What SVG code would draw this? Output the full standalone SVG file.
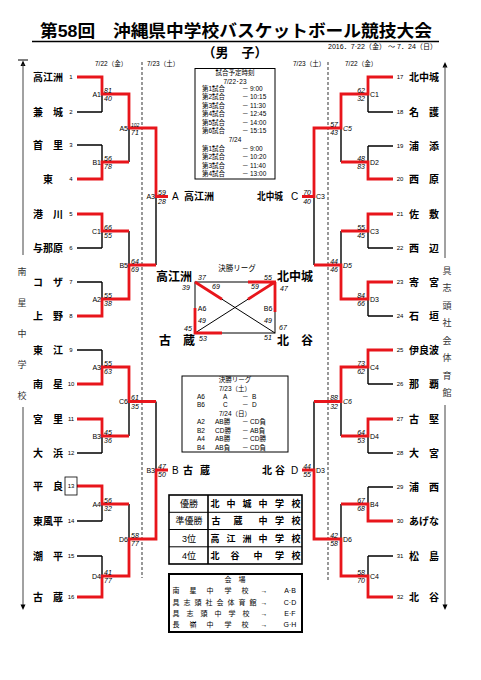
<svg xmlns="http://www.w3.org/2000/svg" width="481" height="680" viewBox="0 0 481 680" font-family="'Liberation Sans','Noto Sans CJK JP',sans-serif">
<style>
.bk{stroke:#000;stroke-width:1.4;fill:none}
.rd{stroke:#e8151b;stroke-width:2.8;fill:none}
.thin{stroke:#000;stroke-width:1;fill:none}
.dash{stroke:#555;stroke-width:1.2;stroke-dasharray:3 2;fill:none}
.side{stroke:#444;stroke-width:1;fill:none}
.nm{font-size:10px;font-weight:bold}
.no{font-size:6px;text-anchor:middle}
.sc{font-size:7px;font-style:italic}
.lb{font-size:7px}
.hd{font-size:6.5px}
.sm{font-size:6.5px}
.vt{font-size:9px;fill:#333;text-anchor:middle}
.cn{font-size:10px;font-weight:bold}
.fl{font-size:12px;font-weight:bold}
.rt{font-size:9px;font-weight:bold;text-anchor:middle}
.rl{font-size:9px;text-anchor:middle}
.vn{font-size:7px;text-anchor:middle}
</style>
<g id="title">
<text x="40" y="37" font-size="17" font-weight="bold" textLength="392" lengthAdjust="spacingAndGlyphs">第58回　沖縄県中学校バスケットボール競技大会</text>
<line x1="32" y1="41.5" x2="439" y2="41.5" stroke="#000" stroke-width="1.5"/>
<text x="235" y="57" font-size="13" font-weight="bold" text-anchor="middle">（男　子）</text>
<text x="328" y="49" font-size="7" textLength="109" lengthAdjust="spacingAndGlyphs">2016．7·22（金） ～ 7．24（日）</text>
<text x="95" y="66" class="hd">7/22（金）</text>
<text x="147" y="66" class="hd">7/23（土）</text>
<text x="293" y="66" class="hd">7/23（土）</text>
<text x="345" y="66" class="hd">7/22（金）</text>
</g>
<g id="venue-sides">
<line x1="18" y1="60" x2="28" y2="60" stroke="#000" stroke-width="1"/>
<polygon points="23,60.5 20.5,66 25.5,66" fill="#000"/>
<line class="side" x1="23" y1="64" x2="23" y2="255"/>
<line class="side" x1="23" y1="407" x2="23" y2="606"/>
<polygon points="23,610 20.5,604.5 25.5,604.5" fill="#000"/>
<text class="vt" x="22" y="274.5">南</text>
<text class="vt" x="22" y="305.5">星</text>
<text class="vt" x="22" y="336.5">中</text>
<text class="vt" x="22" y="367.5">学</text>
<text class="vt" x="22" y="398.5">校</text>
<polygon points="445,62 442.5,67.5 447.5,67.5" fill="#000"/>
<line class="side" x1="445" y1="66" x2="445" y2="258"/>
<line class="side" x1="445" y1="405" x2="445" y2="606"/>
<polygon points="445,610 442.5,604.5 447.5,604.5" fill="#000"/>
<text class="vt" x="447" y="273.5">具</text>
<text class="vt" x="447" y="291">志</text>
<text class="vt" x="447" y="308.5">頭</text>
<text class="vt" x="447" y="326">社</text>
<text class="vt" x="447" y="343.5">会</text>
<text class="vt" x="447" y="361">体</text>
<text class="vt" x="447" y="378.5">育</text>
<text class="vt" x="447" y="396">館</text>
</g>
<g id="connectors">
<line class="dash" x1="142" y1="62" x2="142" y2="578"/>
<line class="dash" x1="328" y1="62" x2="328" y2="582"/>
<path class="bk" d="M77,77H102M77,112H102M77,145H102M77,179H102M77,214H102M77,248H102M77,282H102M77,316H102M77,350H102M77,384H102M77,419H102M77,453H102M77,486H102M77,521H102M77,556H102M77,597H102
M102,77V112M102,145V179M102,214V248M102,282V316M102,350V384M102,419V453M102,486V521M102,556V597
M102,94H129M102,162H129M102,231H129M102,299H129M102,367H129M102,436H129M102,504H129M102,576H129
M129,94V162M129,231V299M129,367V436M129,504V576
M129,128H156M129,265H156M129,401.5H156M129,539H156
M156,128V265M156,401.5V539M156,196.5H168M156,470H168"/>
<path class="bk" d="M393,77H368M393,112H368M393,146H368M393,179H368M393,214H368M393,248H368M393,282H368M393,316H368M393,350H368M393,384H368M393,419H368M393,453H368M393,487H368M393,521H368M393,556H368M393,597H368
M368,77V112M368,146V179M368,214V248M368,282V316M368,350V384M368,419V453M368,487V521M368,556V597
M368,94H341M368,162H341M368,231H341M368,299H341M368,367H341M368,436H341M368,504H341M368,576H341
M341,94V162M341,231V299M341,367V436M341,504V576
M341,128H314M341,265H314M341,401.5H314M341,539H314
M314,128V265M314,401.5V539M314,196.5H302M314,470H302"/>
<path class="rd" d="M77,77H102V94H129V128H156V196.5H168
M77,179H102V162H129
M77,214H102V231H129
M77,316H102V299H129V265H156
M77,384H102V367H129V401.5H156
M77,419H102V436H129
M77,486H102V504H129
M77,597H102V576H129V539H156V470H168"/>
<path class="rd" d="M393,77H368V94H341V128H314V196.5H302
M393,179H368V162H341
M393,214H368V231H341
M393,282H368V299H341V265H314
M393,350H368V367H341V401.5H314
M393,419H368V436H341
M393,521H368V504H341
M393,597H368V576H341V539H314V470H302"/>
</g>
<g id="left-teams">
<g id="team-1"><text class="nm" x="33" y="80.8">高江洲</text><text class="no" x="71" y="79.2">1</text></g>
<g id="team-2"><text class="nm" x="33" y="115.8">兼　城</text><text class="no" x="71" y="114.2">2</text></g>
<g id="team-3"><text class="nm" x="33" y="148.8">首　里</text><text class="no" x="71" y="147.2">3</text></g>
<g id="team-4"><text class="nm" x="48" y="182.8" text-anchor="middle">東</text><text class="no" x="71" y="181.2">4</text></g>
<g id="team-5"><text class="nm" x="33" y="217.8">港　川</text><text class="no" x="71" y="216.2">5</text></g>
<g id="team-6"><text class="nm" x="33" y="251.8">与那原</text><text class="no" x="71" y="250.2">6</text></g>
<g id="team-7"><text class="nm" x="33" y="285.8">コ　ザ</text><text class="no" x="71" y="284.2">7</text></g>
<g id="team-8"><text class="nm" x="33" y="319.8">上　野</text><text class="no" x="71" y="318.2">8</text></g>
<g id="team-9"><text class="nm" x="33" y="353.8">東　江</text><text class="no" x="71" y="352.2">9</text></g>
<g id="team-10"><text class="nm" x="33" y="387.8">南　星</text><text class="no" x="71" y="386.2">10</text></g>
<g id="team-11"><text class="nm" x="33" y="422.8">宮　里</text><text class="no" x="71" y="421.2">11</text></g>
<g id="team-12"><text class="nm" x="33" y="456.8">大　浜</text><text class="no" x="71" y="455.2">12</text></g>
<g id="team-13"><text class="nm" x="33" y="489.8">平　良</text><rect x="65" y="477" width="12" height="18" fill="none" stroke="#000" stroke-width="0.8"/><text class="no" x="71" y="488.2">13</text></g>
<g id="team-14"><text class="nm" x="33" y="524.8">東風平</text><text class="no" x="71" y="523.2">14</text></g>
<g id="team-15"><text class="nm" x="33" y="559.8">潮　平</text><text class="no" x="71" y="558.2">15</text></g>
<g id="team-16"><text class="nm" x="33" y="600.8">古　蔵</text><text class="no" x="71" y="599.2">16</text></g>
</g>
<g id="right-teams">
<g id="team-17"><text class="nm" x="409" y="80.8">北中城</text><text class="no" x="400" y="79.2">17</text></g>
<g id="team-18"><text class="nm" x="409" y="115.8">名　護</text><text class="no" x="400" y="114.2">18</text></g>
<g id="team-19"><text class="nm" x="409" y="149.8">浦　添</text><text class="no" x="400" y="148.2">19</text></g>
<g id="team-20"><text class="nm" x="409" y="182.8">西　原</text><text class="no" x="400" y="181.2">20</text></g>
<g id="team-21"><text class="nm" x="409" y="217.8">佐　敷</text><text class="no" x="400" y="216.2">21</text></g>
<g id="team-22"><text class="nm" x="409" y="251.8">西　辺</text><text class="no" x="400" y="250.2">22</text></g>
<g id="team-23"><text class="nm" x="409" y="285.8">寄　宮</text><text class="no" x="400" y="284.2">23</text></g>
<g id="team-24"><text class="nm" x="409" y="319.8">石　垣</text><text class="no" x="400" y="318.2">24</text></g>
<g id="team-25"><text class="nm" x="409" y="353.8">伊良波</text><text class="no" x="400" y="352.2">25</text></g>
<g id="team-26"><text class="nm" x="409" y="387.8">那　覇</text><text class="no" x="400" y="386.2">26</text></g>
<g id="team-27"><text class="nm" x="409" y="422.8">古　堅</text><text class="no" x="400" y="421.2">27</text></g>
<g id="team-28"><text class="nm" x="409" y="456.8">大　宮</text><text class="no" x="400" y="455.2">28</text></g>
<g id="team-29"><text class="nm" x="409" y="490.8">浦　西</text><text class="no" x="400" y="489.2">29</text></g>
<g id="team-30"><text class="nm" x="409" y="524.8">あげな</text><text class="no" x="400" y="523.2">30</text></g>
<g id="team-31"><text class="nm" x="409" y="559.8">松　島</text><text class="no" x="400" y="558.2">31</text></g>
<g id="team-32"><text class="nm" x="409" y="600.8">北　谷</text><text class="no" x="400" y="599.2">32</text></g>
</g>
<g id="left-matches">
<g text-anchor="end" class="lb">
<text x="101" y="96.5">A1</text><text x="101" y="164.5">B1</text><text x="101" y="233.5">C1</text><text x="101" y="301.5">A2</text>
<text x="101" y="369.5">A3</text><text x="101" y="438.5">B3</text><text x="101" y="506.5">A4</text><text x="101" y="578.5">D4</text>
<text x="128" y="130.5">A5</text><text x="128" y="267.5">B5</text><text x="128" y="404">C6</text><text x="128" y="541.5">D6</text>
<text x="155" y="199">A3</text><text x="155" y="472.5">B3</text>
</g>
<g class="sc">
<text x="104" y="92.5">81</text><text x="104" y="101">40</text>
<text x="104" y="160.5">56</text><text x="104" y="169">78</text>
<text x="104" y="229.5">66</text><text x="104" y="238">55</text>
<text x="104" y="297.5">55</text><text x="104" y="306">38</text>
<text x="104" y="365.5">55</text><text x="104" y="374">63</text>
<text x="104" y="434.5">45</text><text x="104" y="443">36</text>
<text x="104" y="502.5">56</text><text x="104" y="511">32</text>
<text x="104" y="574.5">41</text><text x="104" y="583">77</text>
<text x="131" y="126.5" font-size="5">102</text><text x="131" y="135">71</text>
<text x="131" y="263.5">64</text><text x="131" y="272">69</text>
<text x="131" y="400">61</text><text x="131" y="408.5">35</text>
<text x="131" y="537.5">58</text><text x="131" y="546">77</text>
<text x="158" y="195">59</text><text x="158" y="203.5">28</text>
<text x="158" y="468.5">47</text><text x="158" y="477">50</text>
</g>
</g>
<g id="right-matches">
<g class="lb">
<text x="370" y="96.5">C1</text><text x="370" y="164.5">D2</text><text x="370" y="233.5">C3</text><text x="370" y="301.5">D3</text>
<text x="370" y="369.5">C4</text><text x="370" y="438.5">D4</text><text x="370" y="506.5">B4</text><text x="370" y="578.5">C4</text>
<text x="343" y="130.5" font-style="italic">C5</text><text x="343" y="267.5" font-style="italic">D5</text><text x="343" y="404" font-style="italic">C6</text><text x="343" y="541.5">D6</text>
<text x="316" y="199">C3</text><text x="316" y="472.5">D3</text>
</g>
<g class="sc" text-anchor="end">
<text x="365" y="92.5">62</text><text x="365" y="101">32</text>
<text x="365" y="160.5">48</text><text x="365" y="169">83</text>
<text x="365" y="229.5">55</text><text x="365" y="238">45</text>
<text x="365" y="297.5">84</text><text x="365" y="306">66</text>
<text x="365" y="365.5">73</text><text x="365" y="374">62</text>
<text x="365" y="434.5">64</text><text x="365" y="443">53</text>
<text x="365" y="502.5">67</text><text x="365" y="511">68</text>
<text x="365" y="574.5">58</text><text x="365" y="583">70</text>
<text x="338" y="126.5">57</text><text x="338" y="135">43</text>
<text x="338" y="263.5">44</text><text x="338" y="272">46</text>
<text x="338" y="400">88</text><text x="338" y="408.5">32</text>
<text x="338" y="537.5">42</text><text x="338" y="546">58</text>
<text x="311" y="195">70</text><text x="311" y="203.5">40</text>
<text x="311" y="468.5">44</text><text x="311" y="477">55</text>
</g>
</g>
<g id="block-winners">
<g id="winner-A"><text x="172" y="200" font-size="10">A</text><text class="cn" x="184" y="200">高江洲</text></g>
<g id="winner-B"><text x="172" y="473.5" font-size="10">B</text><text class="cn" x="183" y="473.5">古</text><text class="cn" x="200" y="473.5">蔵</text></g>
<g id="winner-C"><text class="cn" x="257" y="200" textLength="26" lengthAdjust="spacingAndGlyphs">北中城</text><text x="291" y="200" font-size="10">C</text></g>
<g id="winner-D"><text class="cn" x="262" y="473.5">北</text><text class="cn" x="275" y="473.5">谷</text><text x="291" y="473.5" font-size="10">D</text></g>
</g>
<g id="schedule">
<rect x="195" y="68.5" width="80" height="110.5" fill="none" stroke="#000" stroke-width="1"/>
<g class="sm">
<text x="235" y="75" text-anchor="middle">試合予定時刻</text>
<text x="235" y="84" text-anchor="middle">7/22･23</text>
<text x="202" y="90.5">第1試合</text><text x="242" y="90.5">－</text><text x="250" y="90.5">9:00</text>
<text x="202" y="99">第2試合</text><text x="242" y="99">－</text><text x="250" y="99">10:15</text>
<text x="202" y="107.5">第3試合</text><text x="242" y="107.5">－</text><text x="250" y="107.5">11:30</text>
<text x="202" y="116">第4試合</text><text x="242" y="116">－</text><text x="250" y="116">12:45</text>
<text x="202" y="124.5">第5試合</text><text x="242" y="124.5">－</text><text x="250" y="124.5">14:00</text>
<text x="202" y="133">第6試合</text><text x="242" y="133">－</text><text x="250" y="133">15:15</text>
<text x="235" y="142" text-anchor="middle">7/24</text>
<text x="202" y="150.5">第1試合</text><text x="242" y="150.5">－</text><text x="250" y="150.5">9:00</text>
<text x="202" y="159">第2試合</text><text x="242" y="159">－</text><text x="250" y="159">10:20</text>
<text x="202" y="167.5">第3試合</text><text x="242" y="167.5">－</text><text x="250" y="167.5">11:40</text>
<text x="202" y="176">第4試合</text><text x="242" y="176">－</text><text x="250" y="176">13:00</text>
</g>
</g>
<g id="final-league">
<text x="237" y="271" font-size="7.5" text-anchor="middle">決勝リーグ</text>
<rect x="195" y="282" width="80" height="51" class="thin"/>
<line class="thin" x1="195" y1="282" x2="275" y2="333"/>
<line class="thin" x1="275" y1="282" x2="195" y2="333"/>
<path class="rd" d="M195,282L222,299.2M275,282L248,299.2M248,282H276M275,282V312M195,308V334M194,333H222"/>
<text class="fl" x="156" y="280.5">高江洲</text>
<text class="fl" x="277" y="280.5">北中城</text>
<text class="fl" x="159" y="344.5">古　蔵</text>
<text class="fl" x="277" y="344.5">北　谷</text>
<g class="sc" text-anchor="middle">
<text x="202" y="279.5">37</text><text x="186" y="290">39</text><text x="216" y="288.5">69</text>
<text x="268" y="279.5">55</text><text x="255" y="288.5">59</text><text x="284" y="291">47</text>
<text x="202" y="322.5">49</text><text x="188" y="330.5">45</text><text x="203" y="340.5">53</text>
<text x="268" y="322.5">49</text><text x="283" y="329.5">67</text><text x="268" y="339.5">51</text>
</g>
<text class="lb" x="202" y="310.5" text-anchor="middle">A6</text>
<text class="lb" x="268" y="310.5" text-anchor="middle">B6</text>
</g>
<g id="league-schedule">
<rect x="182" y="376" width="106" height="76" fill="none" stroke="#000" stroke-width="1"/>
<g class="sm">
<text x="235" y="382" text-anchor="middle">決勝リーグ</text>
<text x="235" y="391" text-anchor="middle">7/23（土）</text>
<text x="197" y="398.5">A6</text><text x="223" y="398.5">A</text><text x="242" y="398.5">－</text><text x="252" y="398.5">B</text>
<text x="197" y="407">B6</text><text x="223" y="407">C</text><text x="242" y="407">－</text><text x="252" y="407">D</text>
<text x="235" y="415.5" text-anchor="middle">7/24（日）</text>
<text x="197" y="424">A2</text><text x="215" y="424">AB勝</text><text x="242" y="424">－</text><text x="250" y="424">CD負</text>
<text x="197" y="432.5">B2</text><text x="215" y="432.5">CD勝</text><text x="242" y="432.5">－</text><text x="250" y="432.5">AB負</text>
<text x="197" y="441">A4</text><text x="215" y="441">AB勝</text><text x="242" y="441">－</text><text x="250" y="441">CD勝</text>
<text x="197" y="449.5">B4</text><text x="215" y="449.5">AB負</text><text x="242" y="449.5">－</text><text x="250" y="449.5">CD負</text>
</g>
</g>
<g id="results">
<rect x="169" y="495" width="133" height="69" fill="none" stroke="#000" stroke-width="1.6"/>
<path class="thin" d="M169,512.3H302M169,529.5H302M169,546.8H302"/>
<line x1="208" y1="495" x2="208" y2="564" stroke="#000" stroke-width="1.6"/>
<text class="rl" x="189" y="507">優勝</text>
<text class="rl" x="189" y="524.3">準優勝</text>
<text class="rl" x="189" y="541.5">3位</text>
<text class="rl" x="189" y="558.8">4位</text>
<g class="rt">
<text x="215" y="507">北</text><text x="231" y="507">中</text><text x="247" y="507">城</text><text x="263" y="507">中</text><text x="279.5" y="507">学</text><text x="296" y="507">校</text>
<text x="216" y="524.3">古</text><text x="238" y="524.3">蔵</text><text x="263" y="524.3">中</text><text x="279.5" y="524.3">学</text><text x="296" y="524.3">校</text>
<text x="215" y="541.5">高</text><text x="231" y="541.5">江</text><text x="247" y="541.5">洲</text><text x="263" y="541.5">中</text><text x="279.5" y="541.5">学</text><text x="296" y="541.5">校</text>
<text x="215" y="558.8">北</text><text x="235" y="558.8">谷</text><text x="258" y="558.8">中</text><text x="279.5" y="558.8">学</text><text x="296" y="558.8">校</text>
</g>
</g>
<g id="venues">
<rect x="169" y="574" width="133" height="58" fill="none" stroke="#000" stroke-width="2"/>
<g class="vn">
<text x="235" y="582">会　場</text>
<text x="176" y="592.5">南</text><text x="193" y="592.5">星</text><text x="210" y="592.5">中</text><text x="228" y="592.5">学</text><text x="245" y="592.5">校</text><text x="264" y="592.5">→</text><text x="290" y="592.5">A·B</text>
<text x="176" y="605">具</text><text x="187" y="605">志</text><text x="198" y="605">頭</text><text x="209" y="605">社</text><text x="220" y="605">会</text><text x="231" y="605">体</text><text x="242" y="605">育</text><text x="253" y="605">館</text><text x="264" y="605">→</text><text x="290" y="605">C·D</text>
<text x="176" y="616">具</text><text x="190" y="616">志</text><text x="204" y="616">頭</text><text x="218" y="616">中</text><text x="232" y="616">学</text><text x="246" y="616">校</text><text x="264" y="616">→</text><text x="290" y="616">E·F</text>
<text x="176" y="626.5">長</text><text x="193" y="626.5">嶺</text><text x="210" y="626.5">中</text><text x="228" y="626.5">学</text><text x="245" y="626.5">校</text><text x="264" y="626.5">→</text><text x="290" y="626.5">G·H</text>
</g>
</g>
</svg>
